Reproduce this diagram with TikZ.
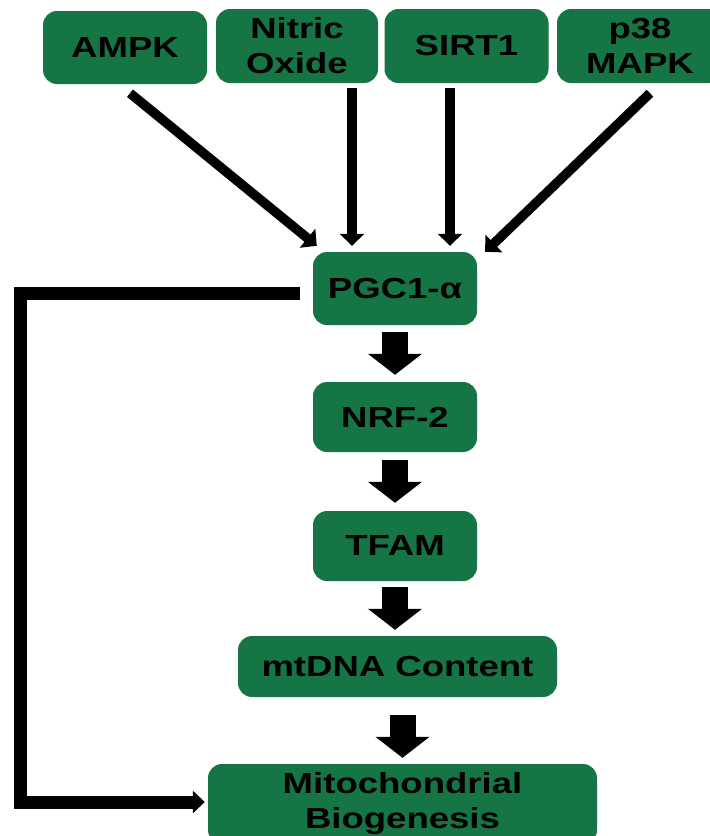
\documentclass[tikz,border=0pt]{standalone}
\usepackage{fontspec}
\setmainfont{Liberation Sans}[FakeStretch=1.26]
\usetikzlibrary{arrows.meta,calc}
\definecolor{boxgreen}{RGB}{22,117,69}

\begin{document}
\begin{tikzpicture}[
        x=1pt, y=-1pt,
        box/.style={rectangle, rounded corners=14pt, fill=boxgreen, draw=none, align=center, inner sep=0pt,
            font=\fontsize{29}{35}\selectfont\bfseries, minimum width=164pt, minimum height=73pt},
        arrow/.style={-{Triangle[length=12pt,width=24pt]}, line width=9.5pt},
        blockarrow/.style={-{Triangle[length=21pt,width=53pt]}, line width=26pt},
        feedback/.style={-{Triangle[length=12pt,width=22pt]}, line width=13pt}
    ]
    \useasboundingbox (0,0) rectangle (710,836);

    % signals at the top
    \node[box] (ampk) at (125,47.5) {AMPK};
    \node[box, minimum width=162pt, minimum height=74pt] (no) at (297,46) {Nitric\\Oxide};
    \node[box, minimum height=74pt] (sirt) at (466.5,46) {SIRT1};
    \node[box, minimum width=166pt, minimum height=74pt] (p38) at (640,46) {p38\\MAPK};

    % main cascade
    \node[box] (pgc) at (395,288.5) {PGC1-α};
    \node[box, minimum height=70pt] (nrf) at (395,417) {NRF-2};
    \node[box, minimum height=70pt] (tfam) at (395,546) {TFAM};
    \node[box, minimum width=319pt, minimum height=61pt] (mtdna) at (397.5,666.5) {mtDNA Content};
    \node[box, minimum width=389pt, minimum height=80pt] (mito) at (402.5,804) {Mitochondrial\\Biogenesis};

    \draw[arrow] ($(ampk.south)+(5,9)$) -- ($(pgc.north west)+(4,-6)$);
    \draw[arrow] ($(no.south)+(55,5)$) -- ($(pgc.north)+(-43,-6)$);
    \draw[arrow] ($(sirt.south)+(-16.5,5)$) -- ($(pgc.north)+(55,-6)$);
    \draw[arrow] ($(p38.south)+(10,10)$) -- ($(pgc.north east)+(8,0)$);

    \draw[blockarrow, shorten <=7pt, shorten >=7pt] (pgc.south) -- (nrf.north);
    \draw[blockarrow, shorten <=8pt, shorten >=8pt] (nrf.south) -- (tfam.north);
    \draw[blockarrow, shorten <=6pt, shorten >=6pt] (tfam.south) -- (tfam.south |- mtdna.north);
    \draw[blockarrow, shorten <=18pt, shorten >=6pt] (mtdna.south -| mito.north) -- (mito.north);

    % direct route to biogenesis
    \draw[feedback] ($(pgc.west)+(-13,4.5)$) -- ++(-279,0) |- ($(mito.west)+(-3,-2)$);
\end{tikzpicture}
\end{document}
